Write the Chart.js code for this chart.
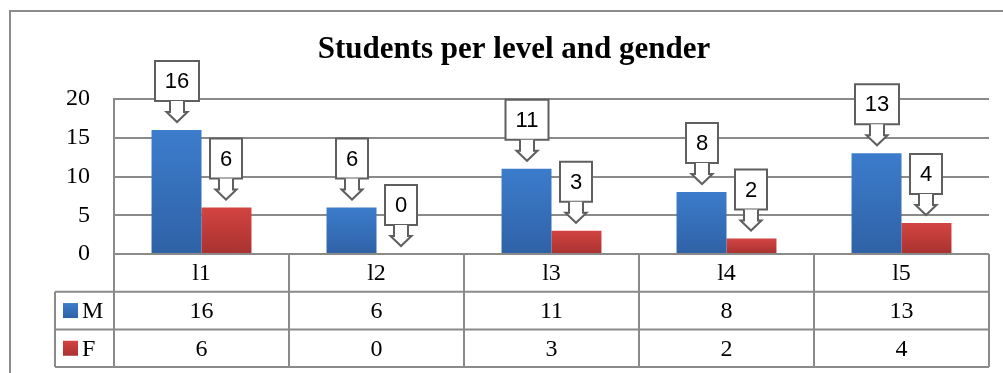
<!DOCTYPE html>
<html>
<head>
<meta charset="utf-8">
<script src="https://cdn.jsdelivr.net/npm/chart.js@4/dist/chart.umd.min.js"></script>
<style>
  html, body { margin: 0; padding: 0; background: #fff; }
  #wrap { width: 1003px; height: 373px; position: relative; }
</style>
</head>
<body>
<div id="wrap"><canvas id="studentsChart" width="1003" height="373"></canvas></div>
<script>
const levels = ['l1', 'l2', 'l3', 'l4', 'l5'];
const maleCounts = [16, 6, 11, 8, 13];
const femaleCounts = [6, 0, 3, 2, 4];
const yTicks = [0, 5, 10, 15, 20];
const chartTitle = 'Students per level and gender';

document.addEventListener('DOMContentLoaded', function() {
  const ctx = document.getElementById('studentsChart').getContext('2d');
  const serif = '"Liberation Serif", "DejaVu Serif", serif';
  const sans = '"Liberation Sans", Arial, sans-serif';
  const lineGray = '#8a8a8a';

  // per-bar vertical gradient, like the Excel bevel
  function barFill(top, bottom) {
    return function(context) {
      const chart = context.chart;
      const y = chart.scales && chart.scales.y;
      if (!y || !chart.chartArea || context.type !== 'data') return top;
      const yTop = y.getPixelForValue(context.raw);
      const yBase = y.getPixelForValue(0);
      if (!isFinite(yTop) || yBase - yTop < 1) return top;
      const g = chart.ctx.createLinearGradient(0, yTop, 0, yBase);
      g.addColorStop(0, top);
      g.addColorStop(1, bottom);
      return g;
    };
  }

  // frame + title
  const framePlugin = {
    id: 'frame',
    beforeDraw(chart) {
      const c = chart.ctx;
      c.save();
      c.strokeStyle = '#8c8c8c';
      c.lineWidth = 2;
      c.beginPath();
      c.moveTo(10, chart.height + 2);
      c.lineTo(10, 11);
      c.lineTo(chart.width + 2, 11);
      c.stroke();
      c.fillStyle = '#000';
      c.font = 'bold 31px ' + serif;
      c.textAlign = 'center';
      c.textBaseline = 'middle';
      c.fillText(chartTitle, 514, 50);
      c.restore();
    }
  };

  // data table under the plot
  const tablePlugin = {
    id: 'dataTable',
    afterDraw(chart) {
      const c = chart.ctx;
      const area = chart.chartArea;
      const x = chart.scales.x;
      const rowH = 37.7;
      const r0 = area.bottom, r1 = r0 + rowH, r2 = r1 + rowH, r3 = r2 + rowH;
      const legendLeft = 55;
      const step = (area.right - area.left) / levels.length;

      c.save();
      c.strokeStyle = lineGray;
      c.lineWidth = 2;
      c.beginPath();
      c.moveTo(area.left, area.top); c.lineTo(area.left, r3);
      c.moveTo(area.right, r0); c.lineTo(area.right, r3);
      for (let i = 1; i < levels.length; i++) {
        const xx = Math.round(area.left + step * i);
        c.moveTo(xx, r0); c.lineTo(xx, r3);
      }
      c.moveTo(area.left, r0); c.lineTo(area.right, r0);
      [r1, r2, r3].forEach(function(r) { c.moveTo(legendLeft, r); c.lineTo(area.right, r); });
      c.moveTo(legendLeft, r1); c.lineTo(legendLeft, r3);
      c.stroke();

      c.fillStyle = '#000';
      c.font = '24px ' + serif;
      c.textAlign = 'center';
      c.textBaseline = 'middle';
      levels.forEach(function(lbl, i) {
        const cx = x.getPixelForValue(i);
        c.fillText(lbl, cx, (r0 + r1) / 2 + 1);
        c.fillText(String(maleCounts[i]), cx, (r1 + r2) / 2 + 1);
        c.fillText(String(femaleCounts[i]), cx, (r2 + r3) / 2 + 1);
      });

      // legend keys
      const keys = [
        { name: 'M', top: '#3c7ccc', bottom: '#2f62a6', row: r1 },
        { name: 'F', top: '#d34441', bottom: '#a83230', row: r2 }
      ];
      keys.forEach(function(k) {
        const ky = (k.row + k.row + rowH) / 2;
        const g = c.createLinearGradient(0, ky - 7.5, 0, ky + 7.5);
        g.addColorStop(0, k.top);
        g.addColorStop(1, k.bottom);
        c.fillStyle = g;
        c.fillRect(63, ky - 7.5, 15, 15);
        c.fillStyle = '#000';
        c.textAlign = 'left';
        c.fillText(k.name, 82, ky + 1);
      });
      c.restore();
    }
  };

  // down-arrow callouts holding the value
  const calloutPlugin = {
    id: 'callouts',
    afterDatasetsDraw(chart) {
      const c = chart.ctx;
      c.save();
      c.font = '22px ' + sans;
      c.textAlign = 'center';
      c.textBaseline = 'middle';
      chart.data.datasets.forEach(function(ds, di) {
        const meta = chart.getDatasetMeta(di);
        meta.data.forEach(function(bar, i) {
          const txt = String(ds.data[i]);
          const bx = Math.round(bar.x);
          const tip = bar.y - 8;
          const headTop = tip - 10;
          const boxBottom = tip - 21;
          const boxTop = boxBottom - 40;
          const w = Math.max(31, Math.round(c.measureText(txt).width) + 20);

          c.fillStyle = '#fff';
          c.strokeStyle = '#5f5f5f';
          c.lineWidth = 2;
          c.beginPath();
          c.rect(bx - w / 2, boxTop, w, 40);
          c.fill();
          c.stroke();

          c.beginPath();
          c.moveTo(bx - 7, boxBottom);
          c.lineTo(bx - 7, headTop);
          c.lineTo(bx - 10.5, headTop);
          c.lineTo(bx, tip);
          c.lineTo(bx + 10.5, headTop);
          c.lineTo(bx + 7, headTop);
          c.lineTo(bx + 7, boxBottom);
          c.fill();
          c.stroke();

          c.fillStyle = '#000';
          c.fillText(txt, bx, (boxTop + boxBottom) / 2 + 1);
        });
      });
      c.restore();
    }
  };

  const data = {
    labels: levels,
    datasets: [
      {
        label: 'M',
        data: maleCounts,
        backgroundColor: barFill('#3c7ccc', '#2f62a6'),
        categoryPercentage: 0.571,
        barPercentage: 1
      },
      {
        label: 'F',
        data: femaleCounts,
        backgroundColor: barFill('#d34441', '#a83230'),
        categoryPercentage: 0.571,
        barPercentage: 1
      }
    ]
  };

  const config = {
    type: 'bar',
    data: data,
    options: {
      responsive: false,
      animation: false,
      layout: {
        padding: { left: 0, right: 14, top: 99, bottom: 119 }
      },
      plugins: {
        legend: { display: false },
        title: { display: false },
        tooltip: { enabled: false }
      },
      scales: {
        x: {
          display: false
        },
        y: {
          min: 0,
          max: 20,
          afterBuildTicks: function(scale) {
            scale.ticks = yTicks.map(function(v) { return { value: v }; });
          },
          afterFit: function(scale) { scale.width = 114; },
          ticks: {
            color: '#000',
            padding: 24,
            font: { family: serif, size: 24 }
          },
          grid: {
            color: lineGray,
            lineWidth: 2,
            drawTicks: false
          },
          border: { display: true, color: lineGray, width: 2 }
        }
      }
    },
    plugins: [framePlugin, calloutPlugin, tablePlugin]
  };

  new Chart(ctx, config);
});
</script>
</body>
</html>
